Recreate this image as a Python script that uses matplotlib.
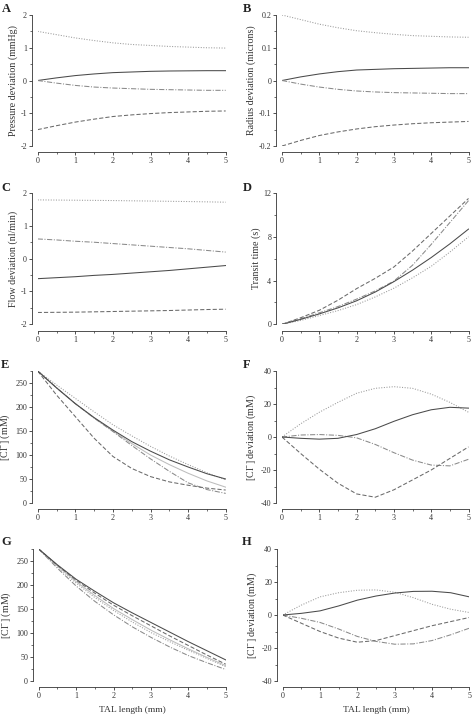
import numpy as np
import matplotlib
matplotlib.use("Agg")
import matplotlib.pyplot as plt
from matplotlib.ticker import MultipleLocator, FuncFormatter

plt.rcParams['font.family'] = ['Liberation Serif', 'DejaVu Serif']
plt.rcParams['mathtext.fontset'] = 'custom'
plt.rcParams['mathtext.rm'] = 'Liberation Serif'
plt.rcParams['mathtext.it'] = 'Liberation Serif:italic'
plt.rcParams['axes.unicode_minus'] = False

# ---------------- data ----------------
x = [0, 0.5, 1, 1.5, 2, 2.5, 3, 3.5, 4, 4.5, 5]

# A: pressure deviation (mmHg)
A_dotted = [1.5, 1.4, 1.3, 1.22, 1.15, 1.1, 1.07, 1.04, 1.02, 1.0, 0.99]
A_solid = [0, 0.08, 0.15, 0.2, 0.24, 0.26, 0.28, 0.29, 0.295, 0.3, 0.3]
A_dashdot = [0, -0.08, -0.15, -0.2, -0.23, -0.25, -0.27, -0.28, -0.29, -0.3, -0.3]
A_dashed = [-1.5, -1.38, -1.27, -1.18, -1.1, -1.05, -1.01, -0.98, -0.96, -0.94, -0.93]

# B: radius deviation (microns)
B_dotted = [0.2, 0.186, 0.172, 0.161, 0.152, 0.146, 0.141, 0.137, 0.135, 0.133, 0.132]
B_solid = [0, 0.011, 0.02, 0.027, 0.032, 0.034, 0.036, 0.037, 0.038, 0.039, 0.039]
B_dashdot = [0, -0.011, -0.02, -0.027, -0.032, -0.035, -0.037, -0.038, -0.039, -0.04, -0.04]
B_dashed = [-0.2, -0.183, -0.168, -0.157, -0.148, -0.141, -0.136, -0.132, -0.129, -0.127, -0.125]

# C: flow deviation (nl/min)
C_dotted = [1.79, 1.785, 1.78, 1.775, 1.77, 1.762, 1.755, 1.747, 1.74, 1.73, 1.72]
C_dashdot = [0.6, 0.57, 0.53, 0.5, 0.46, 0.42, 0.38, 0.34, 0.3, 0.25, 0.2]
C_solid = [-0.61, -0.58, -0.55, -0.51, -0.48, -0.44, -0.4, -0.36, -0.31, -0.26, -0.21]
C_dashed = [-1.64, -1.635, -1.63, -1.62, -1.61, -1.6, -1.59, -1.58, -1.565, -1.55, -1.54]

# D: transit time (s)
D_solid = [0, 0.45, 0.95, 1.5, 2.15, 2.95, 3.9, 4.95, 6.1, 7.35, 8.7]
D_dotted = [0, 0.35, 0.8, 1.25, 1.8, 2.5, 3.3, 4.25, 5.3, 6.6, 8.0]
D_dashed = [0, 0.6, 1.28, 2.2, 3.26, 4.2, 5.24, 6.7, 8.3, 9.9, 11.5]
D_dashdot = [0, 0.5, 1.05, 1.62, 2.3, 3.05, 3.95, 5.4, 7.3, 9.3, 11.3]

# E: [Cl-] (mM)
E_solid = [275, 240, 207, 178, 152, 128, 108, 90, 75, 61, 50]
E_dotted = [275, 246, 218, 190, 163, 140, 118, 98, 80, 63, 48]
E_light = [275, 240, 207, 177, 150, 124, 100, 80, 62, 46, 33]
E_dashdot = [275, 240, 207, 177, 149, 120, 92, 66, 42, 28, 20]
E_dashed = [275, 225, 180, 135, 97, 72, 55, 44, 37, 31, 27]

# F: [Cl-] deviation (mM)
F_dotted = [0, 8, 15, 21, 26.5, 29.5, 30.5, 29.5, 26, 21, 15]
F_solid = [0, -0.8, -1.3, -0.8, 1.5, 5, 9.5, 13.5, 16.5, 18, 17.5]
F_dashdot = [0, 1.2, 1.5, 1.0, -0.5, -4.5, -9.5, -14, -17, -17.5, -13.5]
F_dashed = [0, -10, -19.5, -28, -34.5, -36.5, -32, -26, -20, -13, -6]

# G: [Cl-] (mM)
G_solid = [275, 242, 212, 187, 163, 142, 122, 102, 82, 63, 44]
G_dashed = [275, 241, 210, 183, 158, 136, 115, 94, 74, 54, 35]
G_light = [275, 240, 207, 178, 151, 128, 106, 86, 67, 49, 32]
G_dotted = [275, 238, 204, 174, 147, 123, 101, 82, 64, 47, 30]
G_dashdot = [275, 235, 198, 166, 138, 113, 91, 71, 53, 38, 24]

# H: [Cl-] deviation (mM)
H_solid = [0, 1, 2.5, 5.5, 9, 11.5, 13.3, 14.3, 14.4, 13.5, 11]
H_dotted = [0, 6, 11, 13.5, 15, 15.2, 13.8, 10.5, 6.5, 3.5, 1.5]
H_dashed = [0, -5, -10, -14, -16.5, -15.5, -12.5, -9.5, -6.5, -4, -1.5]
H_dashdot = [0, -2, -4.5, -8.5, -13, -16, -17.7, -17.5, -15.5, -12, -8]

# ---------------- styles ----------------
ST = {
    'solid': dict(color='#4a4a4a', ls='-'),
    'light': dict(color='#bdbdbd', ls='-'),
    'dotted': dict(color='#9a9a9a', ls=(0, (1, 1.5))),
    'dashed': dict(color='#6a6a6a', ls=(0, (4, 2))),
    'dashdot': dict(color='#8a8a8a', ls=(0, (5, 1.5, 1, 1.5))),
}
LW = 0.75
AXC = '#333333'

W, H = 472, 719
fig = plt.figure(figsize=(W / 100, H / 100), dpi=100)


def px_axes(x0, x1, ytop, ybot):
    return fig.add_axes([x0 / W, 1 - ybot / H, (x1 - x0) / W, (ybot - ytop) / H])


fmt = FuncFormatter(lambda v, p: f"{v:g}")


def style(ax, ylim, ymaj, ymin, ylabel, xlabel=None):
    ax.set_xlim(0, 5)
    ax.set_ylim(*ylim)
    for s in ['top', 'right']:
        ax.spines[s].set_visible(False)
    ax.spines['left'].set_position(('outward', 4))
    ax.spines['bottom'].set_position(('outward', 4.5))
    for s in ['left', 'bottom']:
        ax.spines[s].set_color(AXC)
        ax.spines[s].set_linewidth(0.6)
    ax.xaxis.set_major_locator(MultipleLocator(1))
    ax.xaxis.set_minor_locator(MultipleLocator(0.5))
    ax.yaxis.set_major_locator(MultipleLocator(ymaj))
    ax.yaxis.set_minor_locator(MultipleLocator(ymin))
    ax.xaxis.set_major_formatter(fmt)
    ax.yaxis.set_major_formatter(fmt)
    ax.tick_params(which='major', length=2.2, width=0.6, color=AXC,
                   labelsize=5.8, labelcolor='#333333', pad=1.5)
    ax.tick_params(which='minor', length=1.3, width=0.5, color=AXC)
    ax.set_ylabel(ylabel, fontsize=7.2, color='#333333', labelpad=2)
    if xlabel:
        ax.set_xlabel(xlabel, fontsize=6.8, color='#333333', labelpad=4)
    ax.patch.set_visible(False)


def draw(ax, series):
    for key, ys in series:
        ax.plot(x, ys, lw=LW, **ST[key])


L0, L1 = 37.7, 225.7
R0, R1 = 282.0, 468.5
rows = [(15, 146), (193, 324.3), (371, 503), (549, 681)]

axA = px_axes(L0, L1, *rows[0])
draw(axA, [('dotted', A_dotted), ('solid', A_solid), ('dashdot', A_dashdot), ('dashed', A_dashed)])
style(axA, (-2, 2), 1, 0.5, 'Pressure deviation (mmHg)')

axB = px_axes(R0, R1, *rows[0])
draw(axB, [('dotted', B_dotted), ('solid', B_solid), ('dashdot', B_dashdot), ('dashed', B_dashed)])
style(axB, (-0.2, 0.2), 0.1, 0.05, 'Radius deviation (microns)')

axC = px_axes(L0, L1, *rows[1])
draw(axC, [('dotted', C_dotted), ('dashdot', C_dashdot), ('solid', C_solid), ('dashed', C_dashed)])
style(axC, (-2, 2), 1, 0.5, 'Flow deviation (nl/min)')

axD = px_axes(R0, R1, *rows[1])
draw(axD, [('dotted', D_dotted), ('dashdot', D_dashdot), ('solid', D_solid), ('dashed', D_dashed)])
style(axD, (0, 12), 4, 2, 'Transit time (s)')

CL = '[Cl$^{\\mathregular{-}}$]'

axE = px_axes(L0, L1, *rows[2])
draw(axE, [('dotted', E_dotted), ('light', E_light), ('dashdot', E_dashdot), ('dashed', E_dashed), ('solid', E_solid)])
style(axE, (0, 275), 50, 25, CL + ' (mM)')

axF = px_axes(R0, R1, *rows[2])
draw(axF, [('dotted', F_dotted), ('dashdot', F_dashdot), ('dashed', F_dashed), ('solid', F_solid)])
style(axF, (-40, 40), 20, 10, CL + ' deviation (mM)')

axG = px_axes(L0 + 1, L1, *rows[3])
draw(axG, [('dotted', G_dotted), ('light', G_light), ('dashdot', G_dashdot), ('dashed', G_dashed), ('solid', G_solid)])
style(axG, (0, 275), 50, 25, CL + ' (mM)', 'TAL length (mm)')

axH = px_axes(R0 + 0.7, R1 + 0.8, *rows[3])
draw(axH, [('dotted', H_dotted), ('dashdot', H_dashdot), ('dashed', H_dashed), ('solid', H_solid)])
style(axH, (-40, 40), 20, 10, CL + ' deviation (mM)', 'TAL length (mm)')

letters = [('A', 1.5, 2.5), ('B', 242.5, 2.5), ('C', 1.5, 182), ('D', 242.5, 182),
           ('E', 1, 359), ('F', 242.5, 359), ('G', 1.5, 536), ('H', 241.5, 536)]
for t, lx, ly in letters:
    fig.text(lx / W, 1 - ly / H, t, fontsize=9, fontweight='bold', color='#222222',
             ha='left', va='top')

fig.savefig('out.png', dpi=100)
